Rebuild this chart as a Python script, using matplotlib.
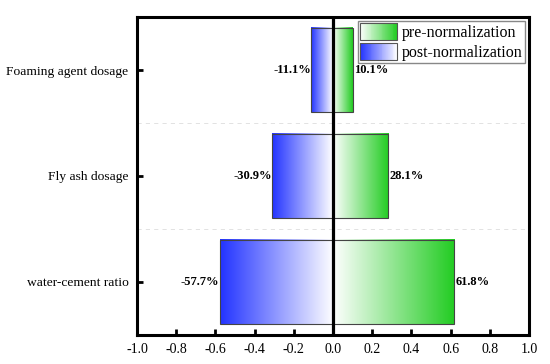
import numpy as np
import matplotlib
matplotlib.use("Agg")
import matplotlib.pyplot as plt
from matplotlib.patches import Rectangle
from matplotlib.legend_handler import HandlerBase
from matplotlib.colors import LinearSegmentedColormap

factors = ["water-cement ratio", "Fly ash dosage", "Foaming agent dosage"]
pre_norm = [0.618, 0.281, 0.101]
post_norm = [-0.577, -0.309, -0.111]
pre_labels = ["61.8%", "28.1%", "10.1%"]
post_labels = ["-57.7%", "-30.9%", "-11.1%"]
x_ticks = [-1.0, -0.8, -0.6, -0.4, -0.2, 0.0, 0.2, 0.4, 0.6, 0.8, 1.0]

GREEN = "#22cc22"
BLUE = "#2233ff"

plt.rcParams['font.family'] = ['Liberation Serif', 'DejaVu Serif']

green_cmap = LinearSegmentedColormap.from_list("g", ["white", GREEN])
blue_cmap = LinearSegmentedColormap.from_list("b", ["white", BLUE])


class GradientHandler(HandlerBase):
    def __init__(self, cmap, reverse=False):
        super().__init__()
        self.cmap = cmap
        self.reverse = reverse

    def create_artists(self, legend, orig_handle, xdescent, ydescent,
                       width, height, fontsize, trans):
        n = 40
        arts = []
        for i in range(n):
            v = (i + 0.5) / n
            if self.reverse:
                v = 1 - v
            arts.append(Rectangle((-xdescent + i * width / n, -ydescent),
                                  width / n + 0.3, height,
                                  facecolor=self.cmap(v), edgecolor='none',
                                  transform=trans))
        arts.append(Rectangle((-xdescent, -ydescent), width, height,
                              facecolor='none', edgecolor='#555555',
                              lw=0.8, transform=trans))
        return arts


def fill_gradient(ax, bars, cmap, reverse):
    grad = np.linspace(0, 1, 256).reshape(1, -1)
    if reverse:
        grad = grad[:, ::-1]
    for b in bars:
        x0, y0 = b.get_x(), b.get_y()
        w, h = b.get_width(), b.get_height()
        ax.imshow(grad, cmap=cmap, aspect='auto', zorder=1,
                  extent=(min(x0, x0 + w), max(x0, x0 + w), y0, y0 + h),
                  interpolation='bilinear')


fig = plt.figure(figsize=(5.5, 3.64), dpi=100)
ax = fig.add_axes([0.249, 0.080, 0.713, 0.873])

y = np.arange(len(factors))
bh = 0.8
pre_bars = ax.barh(y, pre_norm, height=bh, facecolor='none',
                   edgecolor='#444444', lw=0.8, zorder=2)
post_bars = ax.barh(y, post_norm, height=bh, facecolor='none',
                    edgecolor='#444444', lw=0.8, zorder=2)
fill_gradient(ax, pre_bars, green_cmap, reverse=False)
fill_gradient(ax, post_bars, blue_cmap, reverse=True)

for yi, v, lab in zip(y, pre_norm, pre_labels):
    ax.text(v + 0.005, yi, lab, ha='left', va='center',
            fontweight='bold', fontsize=9, zorder=4)
for yi, v, lab in zip(y, post_norm, post_labels):
    ax.text(v - 0.002, yi, lab, ha='right', va='center',
            fontweight='bold', fontsize=9, zorder=4)

ax.axvline(0, color='black', lw=2.3, zorder=3)

ax.set_xlim(-1.0, 1.0)
ax.set_ylim(-0.5, 2.5)
ax.set_xticks(x_ticks)
ax.set_xticklabels([f"{t:.1f}" for t in x_ticks])
ax.set_yticks(y)
ax.set_yticklabels(factors, fontsize=9.7)
ax.set_yticks([0.5, 1.5], minor=True)
ax.grid(which='minor', axis='y', ls=(0, (5, 5)), color='#dddddd', lw=0.6)
ax.tick_params(which='major', direction='in', length=4, width=2,
               labelsize=10, pad=6)
ax.tick_params(axis='y', labelsize=9.7)
ax.tick_params(which='minor', length=0)
for s in ax.spines.values():
    s.set_linewidth(2.2)

h1 = Rectangle((0, 0), 1, 1)
h2 = Rectangle((0, 0), 1, 1)
ax.legend([h1, h2], ["pre-normalization", "post-normalization"],
          handler_map={h1: GradientHandler(green_cmap),
                       h2: GradientHandler(blue_cmap, reverse=True)},
          loc='upper right', fontsize=11.5, frameon=True, fancybox=False,
          edgecolor='#888888', framealpha=1, borderaxespad=0.25,
          borderpad=0.15, labelspacing=0.1, handlelength=2.3,
          handleheight=1.25, handletextpad=0.3)

fig.savefig("out.png", dpi=100)
